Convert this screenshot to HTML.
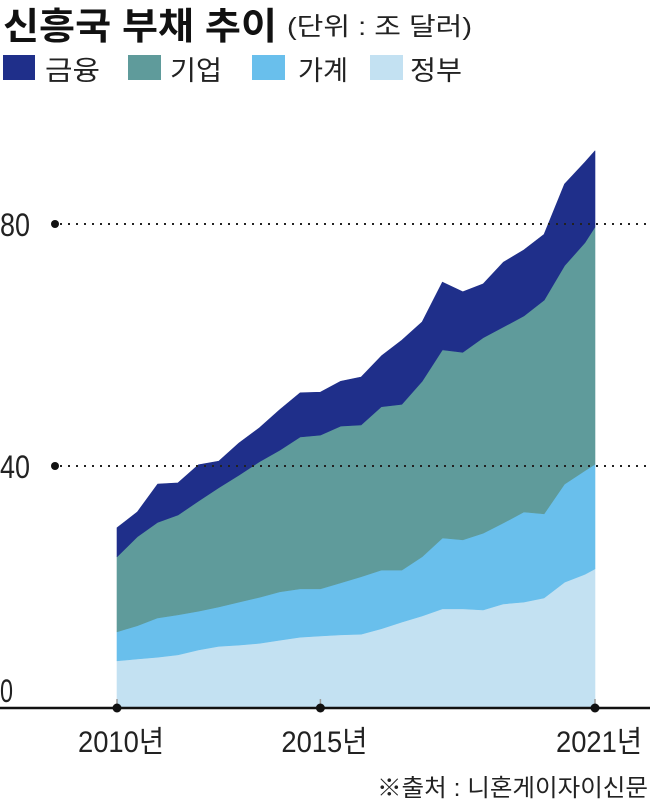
<!DOCTYPE html>
<html><head><meta charset="utf-8">
<style>
html,body{margin:0;padding:0;background:#fff;}
svg{display:block;font-family:"Liberation Sans","Noto Sans CJK KR",sans-serif;}
</style></head>
<body>
<svg id="chart" width="650" height="802" viewBox="0 0 650 802" xmlns="http://www.w3.org/2000/svg">
  <text x="3" y="39" font-size="37" font-weight="bold" textLength="274" lengthAdjust="spacingAndGlyphs" fill="#111">신흥국 부채 추이</text>
  <text x="287" y="35" font-size="25" textLength="185" lengthAdjust="spacingAndGlyphs" fill="#222">(단위 : 조 달러)</text>
  <g>
    <g><rect x="3" y="55" width="32" height="25" fill="#1f2f8a"/><text x="45" y="80" font-size="27" textLength="55" lengthAdjust="spacingAndGlyphs" fill="#222">금융</text></g>
    <g><rect x="128" y="55" width="33" height="25" fill="#5f9b9b"/><text x="170" y="80" font-size="27" textLength="52" lengthAdjust="spacingAndGlyphs" fill="#222">기업</text></g>
    <g><rect x="252" y="55" width="33" height="25" fill="#69bfec"/><text x="298" y="80" font-size="27" textLength="50" lengthAdjust="spacingAndGlyphs" fill="#222">가계</text></g>
    <g><rect x="370" y="55" width="33" height="25" fill="#c3e1f2"/><text x="410" y="80" font-size="27" textLength="52" lengthAdjust="spacingAndGlyphs" fill="#222">정부</text></g>
  </g>
  <g id="areas"></g>
  <g id="grid"></g>
  <g id="xaxis"></g>
  <text x="377" y="796" font-size="24" textLength="271" lengthAdjust="spacingAndGlyphs" fill="#222">※출처 : 니혼게이자이신문</text>
</svg>
<script>
const quarters = [0,2,4,6,8,10,12,14,16,18,20,22,24,26,28,30,32,34,36,38,40,42,44,46,47];
const government = [7.8,8.1,8.4,8.8,9.6,10.2,10.4,10.7,11.2,11.7,11.9,12.1,12.2,13.1,14.2,15.2,16.4,16.4,16.2,17.2,17.5,18.2,20.8,22.1,23.0];
const household = [4.8,5.5,6.5,6.6,6.4,6.5,7.1,7.6,8.0,8.0,7.8,8.6,9.5,9.7,8.6,9.8,11.7,11.4,12.7,13.4,14.9,13.9,16.2,17.1,17.3];
const corporate = [12.4,14.7,15.8,16.5,18.2,19.7,21.0,22.4,23.4,25.1,25.4,25.9,25.1,27.0,27.4,29.0,31.1,31.0,32.3,32.4,32.4,35.3,36.1,37.7,39.2];
const financial = [4.8,4.1,6.3,5.3,6.0,4.4,5.3,5.6,6.7,7.3,7.1,7.4,7.9,8.4,10.6,9.8,11.2,10.0,8.9,10.7,10.9,10.9,13.5,13.3,12.6];
const yTicks = [0,40,80];
const xTickQuarters = [0,20,47];
const xTickLabels = ["2010년","2015년","2021년"];

const NS = "http://www.w3.org/2000/svg";
const X0 = 117, X1 = 595, QMAX = 47;
const Y0 = 708, PXU = 6.05;
function xs(q){ return X0 + (q / QMAX) * (X1 - X0); }
function ys(v){ return Y0 - v * PXU; }

const series = [
  {name:"government", vals:government, color:"#c3e1f2"},
  {name:"household", vals:household, color:"#69bfec"},
  {name:"corporate", vals:corporate, color:"#5f9b9b"},
  {name:"financial", vals:financial, color:"#1f2f8a"}
];
const areas = document.getElementById("areas");
let base = quarters.map(() => 0);
series.forEach(s => {
  const top = base.map((b, i) => b + s.vals[i]);
  let d = "";
  quarters.forEach((q, i) => { d += (i ? "L" : "M") + xs(q).toFixed(1) + "," + ys(top[i]).toFixed(1); });
  for (let i = quarters.length - 1; i >= 0; i--) d += "L" + xs(quarters[i]).toFixed(1) + "," + ys(base[i]).toFixed(1);
  d += "Z";
  const p = document.createElementNS(NS, "path");
  p.setAttribute("d", d);
  p.setAttribute("fill", s.color);
  p.setAttribute("stroke", s.color);
  p.setAttribute("stroke-width", "0.6");
  p.setAttribute("stroke-linejoin", "round");
  
  
  areas.appendChild(p);
  base = top;
});

const grid = document.getElementById("grid");
yTicks.forEach(t => {
  const y = ys(t);
  const lab = document.createElementNS(NS, "text");
  lab.setAttribute("x", "0");
  lab.setAttribute("y", (t === 0 ? y - 6 : y + 12).toFixed(1));
  lab.setAttribute("font-size", "32");
  lab.setAttribute("textLength", t === 0 ? "13" : "30");
  lab.setAttribute("lengthAdjust", "spacingAndGlyphs");
  lab.setAttribute("fill", "#222");
  lab.textContent = String(t);
  
  
  grid.appendChild(lab);
  if (t === 0) return;
  const ln = document.createElementNS(NS, "line");
  ln.setAttribute("x1", "60"); ln.setAttribute("x2", "650");
  ln.setAttribute("y1", y); ln.setAttribute("y2", y);
  ln.setAttribute("stroke", "#222");
  ln.setAttribute("stroke-width", "2");
  ln.setAttribute("stroke-dasharray", "2 6");
  
  
  grid.appendChild(ln);
  const c = document.createElementNS(NS, "circle");
  c.setAttribute("cx", "55"); c.setAttribute("cy", y); c.setAttribute("r", "4");
  c.setAttribute("fill", "#111");
  
  
  grid.appendChild(c);
});

const xaxis = document.getElementById("xaxis");
const axl = document.createElementNS(NS, "line");
axl.setAttribute("x1", "0"); axl.setAttribute("x2", "650");
axl.setAttribute("y1", Y0); axl.setAttribute("y2", Y0);
axl.setAttribute("stroke", "#111"); axl.setAttribute("stroke-width", "2.5");


xaxis.appendChild(axl);
xTickQuarters.forEach((q, i) => {
  const x = xs(q);
  const tk = document.createElementNS(NS, "line");
  tk.setAttribute("x1", x); tk.setAttribute("x2", x);
  tk.setAttribute("y1", Y0 - 9); tk.setAttribute("y2", Y0);
  tk.setAttribute("stroke", "#999"); tk.setAttribute("stroke-width", "1.5");
  
  
  xaxis.appendChild(tk);
  const c = document.createElementNS(NS, "circle");
  c.setAttribute("cx", x); c.setAttribute("cy", Y0); c.setAttribute("r", "4.5");
  c.setAttribute("fill", "#111");
  
  
  xaxis.appendChild(c);
  const t = document.createElementNS(NS, "text");
  const w = 86;
  let lx = x - w / 2 + 4;
  if (lx + w > 646) lx = 646 - w;
  t.setAttribute("x", lx.toFixed(1));
  t.setAttribute("y", "752");
  t.setAttribute("font-size", "30");
  t.setAttribute("textLength", w);
  t.setAttribute("lengthAdjust", "spacingAndGlyphs");
  t.setAttribute("fill", "#222");
  t.textContent = xTickLabels[i];
  
  
  xaxis.appendChild(t);
});
</script>
</body></html>
